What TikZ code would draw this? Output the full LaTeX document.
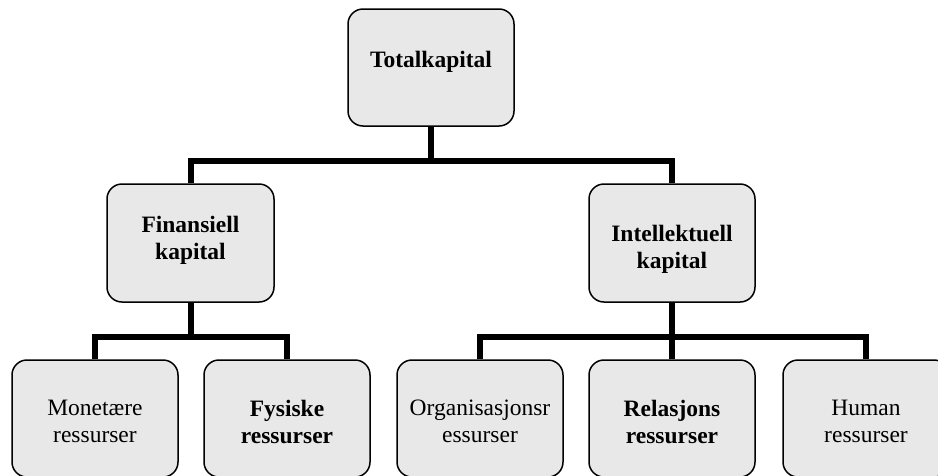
\documentclass[tikz,border=0pt]{standalone}
\usepackage{fontspec}
\setmainfont{Liberation Serif}
\definecolor{boxgray}{HTML}{E8E8E8}
\begin{document}
\begin{tikzpicture}[x=1pt,y=-1pt,
  box/.style={draw=black, line width=1.5pt, fill=boxgray, rounded corners=15pt,
    inner sep=0pt, minimum width=166pt, minimum height=117pt},
  lbl/.style={align=center, inner sep=0pt, font=\fontsize{23.5}{27}\selectfont},
  blbl/.style={lbl, font=\fontsize{23.5}{27}\selectfont\bfseries},
  conn/.style={line width=6pt, line join=miter}]
\useasboundingbox (0,0) rectangle (938,475);
\clip (0,0) rectangle (938,475);

% boxes
\node[box] (total) at (431,67.5) {};
\node[box, minimum width=167pt, minimum height=118pt] (fin) at (190.5,243) {};
\node[box, minimum height=118pt] (int) at (672,243) {};
\node[box] (mon) at (95,418.5) {};
\node[box] (fys) at (287,418.5) {};
\node[box] (org) at (480,418.5) {};
\node[box] (rel) at (672,418.5) {};
\node[box] (hum) at (866,418.5) {};

% labels
\node[blbl, anchor=base] (total-t) at (431,67) {Totalkapital};
\node[blbl] (fin-t) at (190.5,240) {Finansiell\\kapital};
\node[blbl] (int-t) at (672,249.5) {Intellektuell\\kapital};
\node[lbl] (mon-t) at (95,421.5) {Monetære\\ressurser};
\node[blbl] (fys-t) at (287,421.5) {Fysiske\\ressurser};
\node[lbl] (org-t) at (480,421.5) {Organisasjonsr\\essurser};
\node[blbl] (rel-t) at (672,421.5) {Relasjons\\ressurser};
\node[lbl] (hum-t) at (866,421.5) {Human\\ressurser};

% junction points of the tree
\coordinate (j0) at (431,161);
\coordinate (j1) at (190.5,337);
\coordinate (j2) at (672,336.5);

% connectors
\draw[conn] (total.south) -- (j0);
\draw[conn] (fin.north) |- (j0) -| (int.north);
\draw[conn] (fin.south) -- (j1);
\draw[conn] (mon.north) |- (j1) -| (fys.north);
\draw[conn] (int.south) -- (j2);
\draw[conn] (org.north) |- (j2) -| (hum.north);
\draw[conn] (rel.north) -- (j2);
\end{tikzpicture}
\end{document}
